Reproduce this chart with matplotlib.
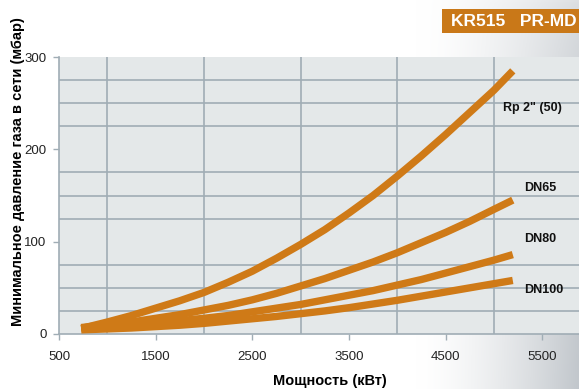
import numpy as np
import matplotlib
matplotlib.use("Agg")
import matplotlib.pyplot as plt
from matplotlib.patches import Rectangle

plt.rcParams["font.family"] = ["Liberation Sans", "DejaVu Sans"]

# Data (power in kW, pressure in mbar)
power_kw = [730, 1000, 1250, 1500, 1750, 2000, 2250, 2500, 2750, 3000,
            3250, 3500, 3750, 4000, 4250, 4500, 4750, 5000, 5195]
rp2 = [6, 13, 20, 28, 36, 45, 56, 68, 82, 97,
       113, 131, 150, 171, 193, 216, 240, 264, 285]
dn65 = [7, 10, 13, 17, 21, 26, 31, 37, 44, 52,
        60, 69, 78, 88, 99, 110, 122, 135, 145]
dn80 = [6.5, 8, 10, 12, 14.5, 17, 20, 24, 28, 32,
        37, 42, 47, 53, 59, 66, 73, 80, 86]
dn100 = [4.5, 5.5, 6.5, 8, 9.5, 11.5, 14, 16.5, 19, 22,
         25, 28.5, 32.5, 36.5, 41, 45.5, 50, 54.5, 58]
series_labels = ['Rp 2" (50)', "DN65", "DN80", "DN100"]
label_x = [5096, 5313, 5313, 5313]
label_y = [245, 158, 103, 48]
x_ticks = [500, 1500, 2500, 3500, 4500, 5500]
y_ticks = [0, 100, 200, 300]

W, H = 579, 389
fig = plt.figure(figsize=(W / 100, H / 100), dpi=100)

# background gradient (white -> grey towards the right)
bg = fig.add_axes([0, 0, 1, 1], zorder=-10)
gx = np.linspace(0, 1, 300)
gy = np.linspace(0, 1, 200)
GX, GY = np.meshgrid(gx, gy)
t = np.clip((GX - 0.72) / 0.28, 0, 1) ** 1.5 * (0.55 + 0.45 * (1 - GY) ** 0.5)
t = np.maximum(t, np.clip((GX - 0.85) / 0.15, 0, 1) ** 2 * 0.5 * GY)
base = np.array([1.0, 1.0, 1.0])
dark = np.array([0.76, 0.78, 0.80])
img = base[None, None, :] * (1 - t[..., None]) + dark[None, None, :] * t[..., None]
bg.imshow(img, extent=[0, 1, 0, 1], aspect="auto", origin="lower")
bg.set_axis_off()

ax = fig.add_axes([59 / W, (H - 334) / H, 1 - 59 / W, (334 - 57) / H])
ax.set_facecolor("#e4e8e9")
ax.set_xlim(500, 5880)
ax.set_ylim(0, 300)

gridc = "#a0adb5"
ax.set_xticks(np.arange(500, 6000, 500), minor=True)
ax.set_yticks(np.arange(0, 301, 25), minor=True)
ax.grid(which="minor", color=gridc, linewidth=1.2)
ax.set_axisbelow(True)
ax.set_xticks(x_ticks)
ax.set_yticks(y_ticks)
ax.tick_params(which="minor", length=0)
ax.tick_params(which="major", color=gridc, length=4, width=1, labelsize=9.5,
               labelcolor="#222222", pad=5)
ax.tick_params(axis="x", pad=8)
for s in ["top", "right"]:
    ax.spines[s].set_visible(False)
for s in ["left", "bottom"]:
    ax.spines[s].set_color(gridc)
    ax.spines[s].set_linewidth(1.2)

curve_color = "#cf7a17"
for ys in [rp2, dn65, dn80, dn100]:
    ax.plot(power_kw, ys, color=curve_color, lw=5.3, solid_capstyle="butt",
            solid_joinstyle="round", zorder=3)

for lab, lx, ly in zip(series_labels, label_x, label_y):
    ax.text(lx, ly, lab, fontsize=9, fontweight="bold", color="#111111",
            va="center", ha="left", clip_on=False)

fig.text(330 / W, (H - 381) / H, "Мощность (кВт)", fontsize=10.5,
         fontweight="bold", ha="center", va="center")
fig.text(18 / W, (H - 172) / H, "Минимальное давление газа в сети (мбар)",
         rotation=90, fontsize=10.5, fontweight="bold", ha="center", va="center")

# title box
fig.patches.append(Rectangle((442 / W, (H - 33) / H), (W - 442) / W, 24 / H,
                             transform=fig.transFigure, facecolor="#c97818",
                             edgecolor="none", zorder=5))
fig.text(451 / W, (H - 21) / H, "KR515   PR-MD", color="white", fontsize=12.5,
         fontweight="bold", ha="left", va="center", zorder=6)

fig.savefig("out.png", dpi=100)
